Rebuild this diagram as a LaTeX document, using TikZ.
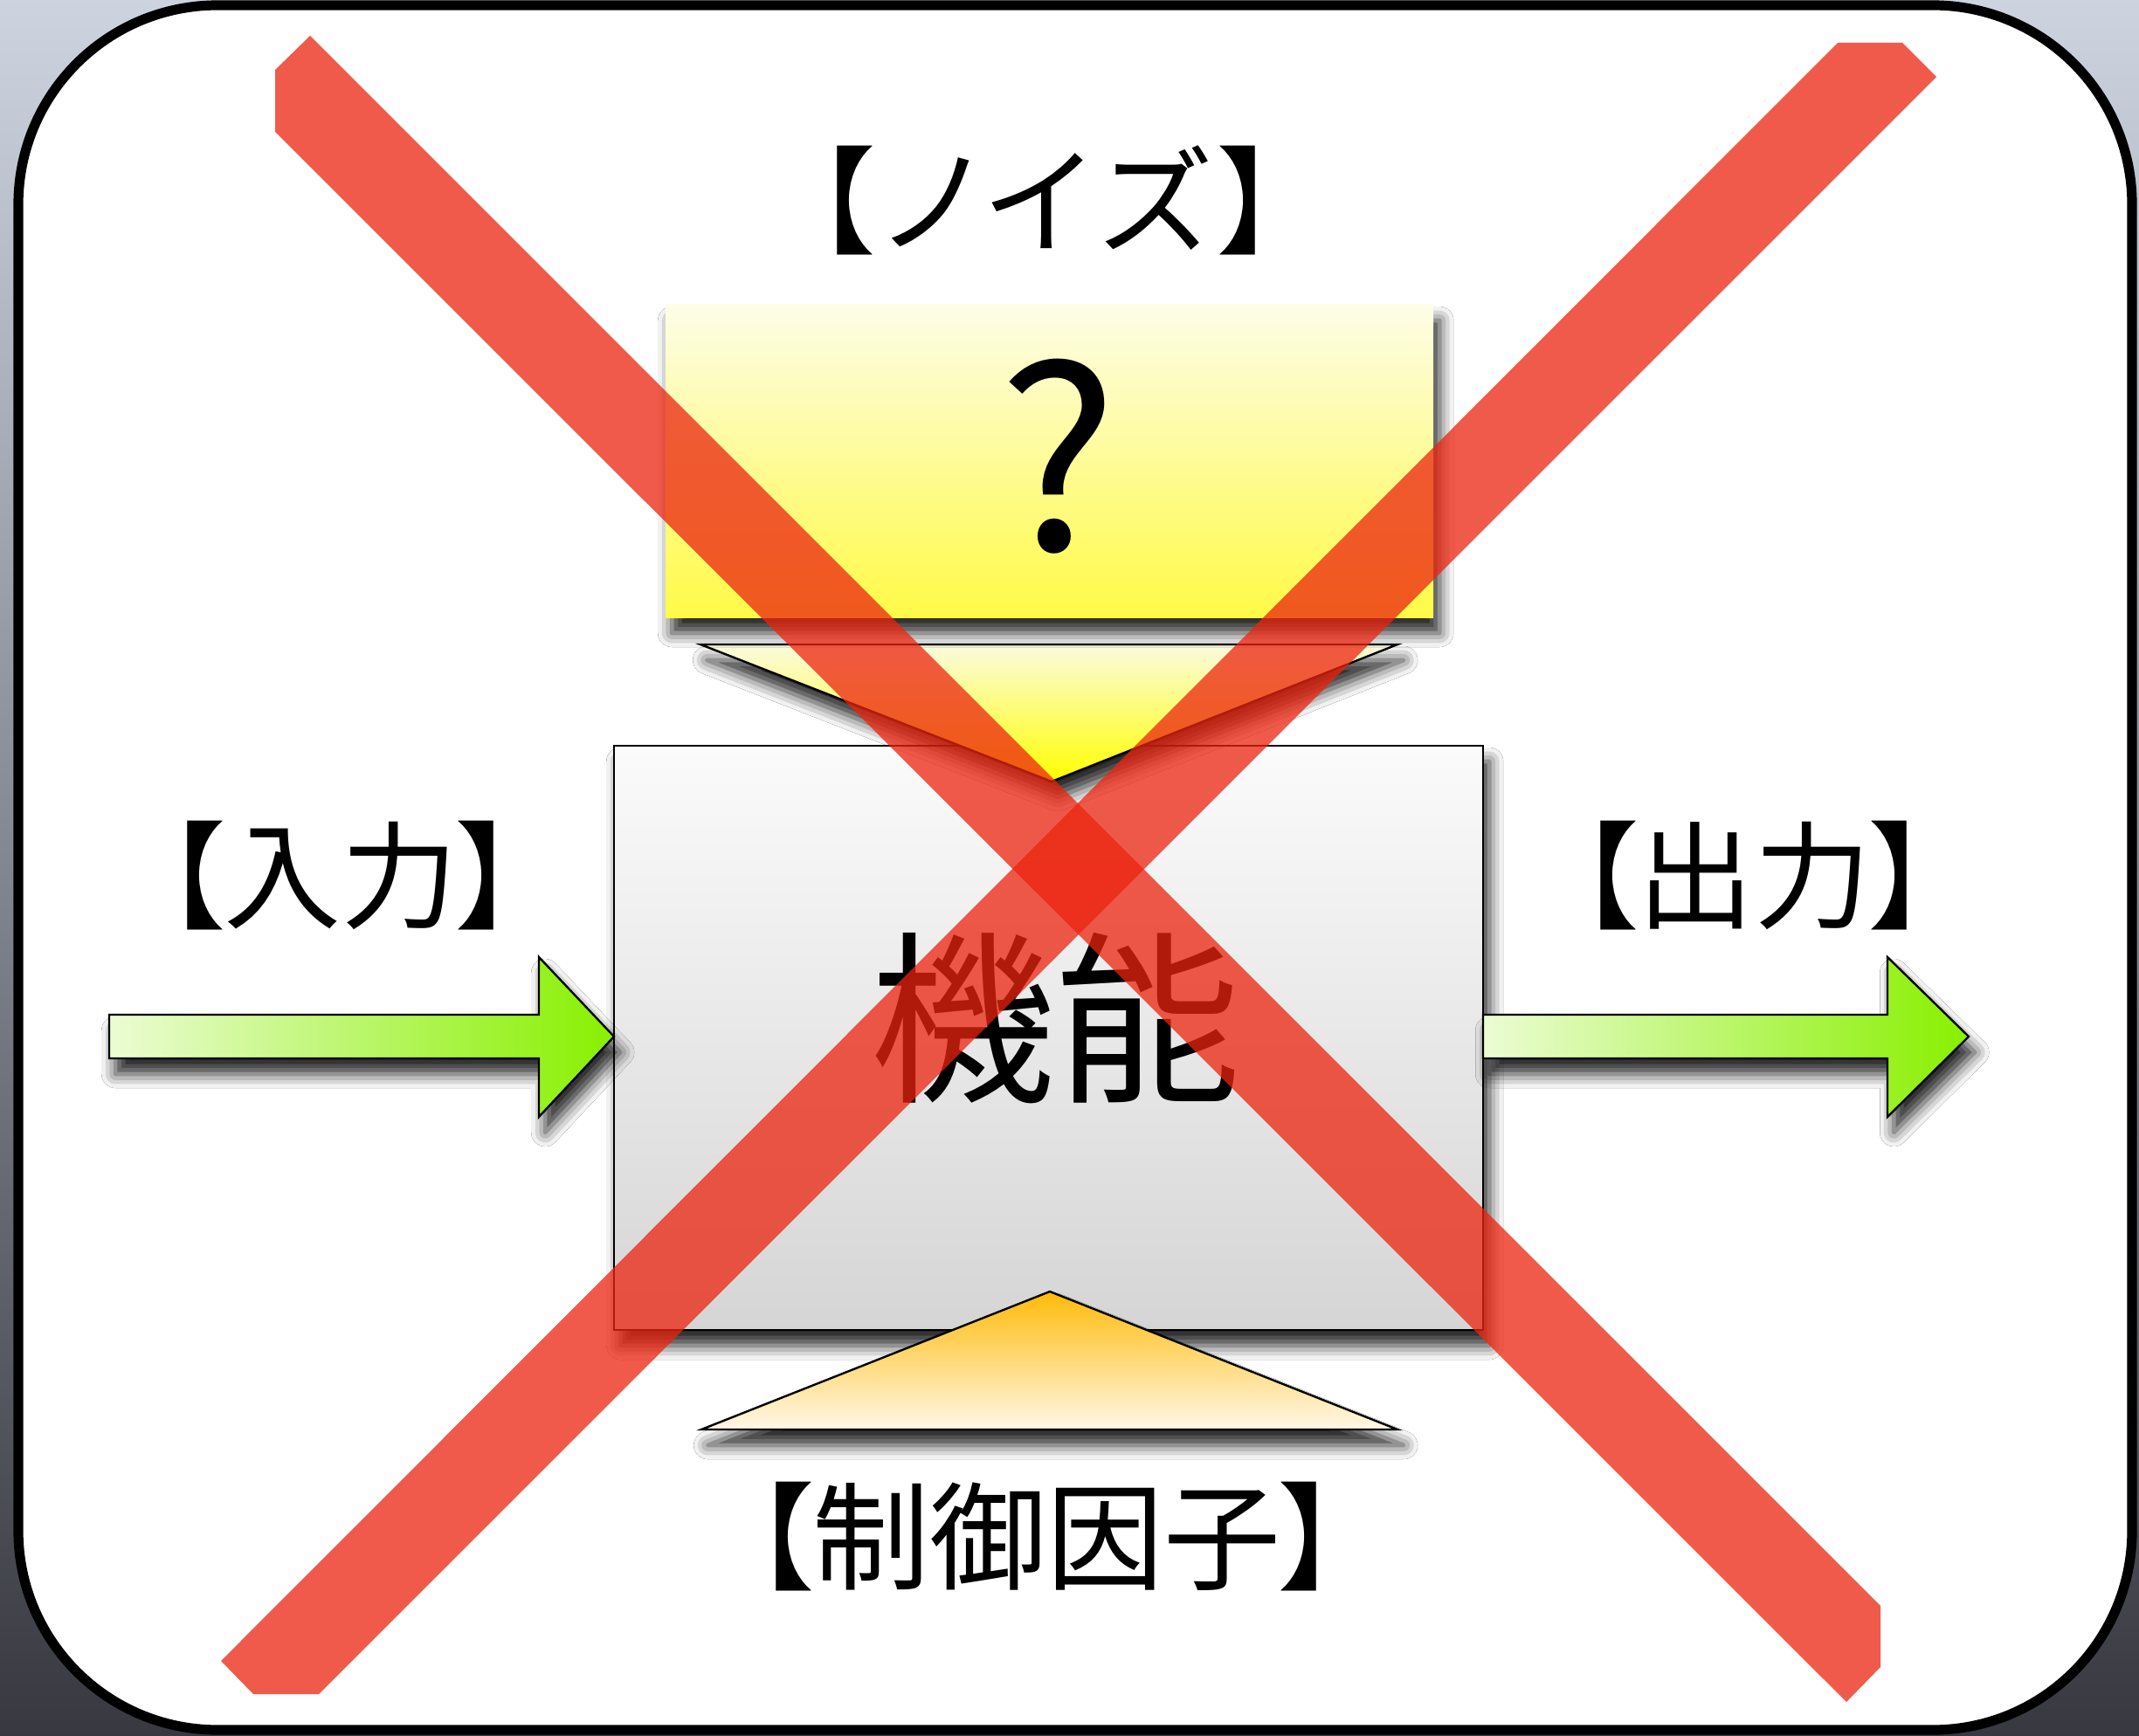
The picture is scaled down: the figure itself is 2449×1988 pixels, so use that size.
\documentclass[tikz,border=0pt]{standalone}
\usepackage{fontspec}
\newfontfamily\jp[RawFeature=+palt]{Noto Sans CJK JP}
\usetikzlibrary{shadows.blur}
\definecolor{xred}{RGB}{236,36,15}
\definecolor{bgtop}{RGB}{205,212,224}
\definecolor{bgbot}{RGB}{55,56,64}
\definecolor{boxtop}{RGB}{251,251,251}
\definecolor{boxbot}{RGB}{213,213,213}
\definecolor{ylwtop}{RGB}{253,253,232}
\definecolor{ylwbot}{RGB}{255,250,70}
\definecolor{ntritop}{RGB}{251,251,222}
\definecolor{ntribot}{RGB}{255,255,0}
\definecolor{ctritop}{RGB}{255,187,10}
\definecolor{ctribot}{RGB}{255,248,232}
\definecolor{arrl}{RGB}{236,252,212}
\definecolor{arrr}{RGB}{136,240,0}
\tikzset{
  shad/.style={blur shadow={shadow xshift=1.8pt, shadow yshift=-4.5pt, shadow blur radius=4pt, shadow opacity=85}},
  lbl/.style={font=\jp\fontsize{33.5}{40}\selectfont, inner sep=0pt},
  xband/.style={fill=xred, fill opacity=0.75},
  outline/.style={draw=black, line width=0.6pt, line join=miter},
}
\begin{document}
\begin{tikzpicture}[x=0.25pt,y=-0.25pt]
\useasboundingbox (0,0) rectangle (2449,1988);
% screenshot background
\shade[top color=bgtop, bottom color=bgbot] (0,0) rectangle (2449,1988);
% slide frame
\draw[line width=2.8pt, fill=white, rounded corners=57pt] (21,6) rectangle (2441,1981);

% function box
\path[outline, top color=boxtop, bottom color=boxbot, shad] (703,854) rectangle (1698,1523);
\coordinate (boxW) at (703,1187);
\coordinate (boxE) at (1698,1187);

% input arrow
\path[outline, left color=arrl, right color=arrr, shad]
  (125,1162) -- (617,1162) -- (617,1096) -- (boxW) -- (617,1279) -- (617,1212) -- (125,1212) -- cycle;
% output arrow
\path[outline, left color=arrl, right color=arrr, shad]
  (boxE |- 0,1162) -- (2161,1162) -- (2161,1096) -- (2254,1187) -- (2161,1279) -- (2161,1212) -- (boxE |- 0,1212) -- cycle;

% noise triangle
\path[outline, top color=ntritop, bottom color=ntribot, shad]
  (802,738) -- (1600,738) -- (1204,895) -- cycle;
% control triangle
\path[outline, top color=ctritop, bottom color=ctribot, shad]
  (1202,1479) -- (1600,1637) -- (803,1637) -- cycle;

% noise box
\path[top color=ylwtop, bottom color=ylwbot, shad] (762,349) rectangle (1641,707);
\node[font=\jp\fontsize{72}{80}\selectfont, inner sep=0pt] (q) at (1212,523) {?};

% labels
\node[lbl] (noise) at (1198,229) {【\kern3pt ノ\kern3pt イ\kern3pt ズ\kern3pt 】};
\node[lbl] (in) at (390,1003) {【入力】};
\node[lbl] (out) at (2008,1003) {【出力】};
\node[lbl] (ctrl) at (1198,1760) {【制御因子】};
\node[font=\jp\fontsize{53}{60}\selectfont, inner sep=0pt] (func) at (1208,1166) {機能};

% red X
\path[xband] (315,151) -- (315,80) -- (355,41) -- (2153,1839) -- (2153,1909) -- (2114,1949) -- cycle;
\path[xband] (2104,49) -- (2178,49) -- (2217,88) -- (365,1940) -- (290,1940) -- (253,1902) -- cycle;
\end{tikzpicture}
\end{document}
